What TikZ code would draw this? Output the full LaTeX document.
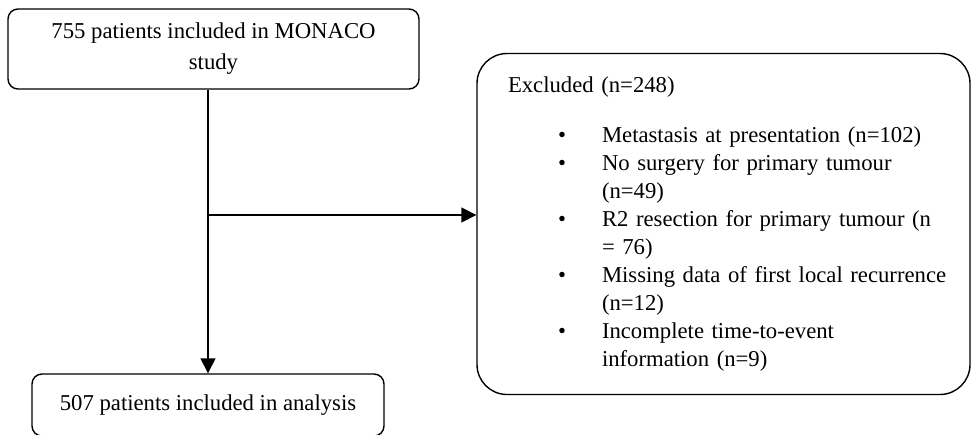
\documentclass[tikz,border=0pt]{standalone}
\usepackage{fontspec}
\setmainfont{Liberation Serif}
\usetikzlibrary{arrows.meta}

\begin{document}
\begin{tikzpicture}[
                x=1pt, y=-1pt,
                every node/.style={font=\fontsize{22.7}{28}\selectfont, text=black},
                box/.style={draw, line width=1.4pt, rounded corners=#1},
                flow/.style={line width=1.5pt, -{Triangle[length=15pt,width=15pt]}}
            ]
                \useasboundingbox (0,0) rectangle (971,434);

                \node [box=10pt, minimum width=411pt, minimum height=80pt, align=center] (study) at (213.5,49)
                    {755 patients included in MONACO\\[3pt]study};
                \node [box=10pt, minimum width=352pt, minimum height=62pt] (analysis) at (208,405)
                    {507 patients included in analysis};
                \node [box=30pt, minimum width=493pt, minimum height=341pt, text width=431pt,
                       inner xsep=31pt, inner ysep=0pt, align=left] (excluded) at (723.5,224) {%
                    \begin{tabular}{@{}p{50pt}@{}p{44pt}@{}l@{}}
                        \multicolumn{3}{@{}l@{}}{Excluded (n=248)}\\[22pt]
                        & \textbullet & Metastasis at presentation (n=102)\\
                        & \textbullet & No surgery for primary tumour\\
                        &             & (n=49)\\
                        & \textbullet & R2 resection for primary tumour (n\\
                        &             & = 76)\\
                        & \textbullet & Missing data of first local recurrence\\
                        &             & (n=12)\\
                        & \textbullet & Incomplete time-to-event\\
                        &             & information (n=9)
                    \end{tabular}};

                \coordinate (split) at (208,215);
                \draw [flow] (study.south -| analysis.north) -- (analysis.north);
                \draw [flow] (split) -- (split -| excluded.west);
            \end{tikzpicture}
\end{document}
